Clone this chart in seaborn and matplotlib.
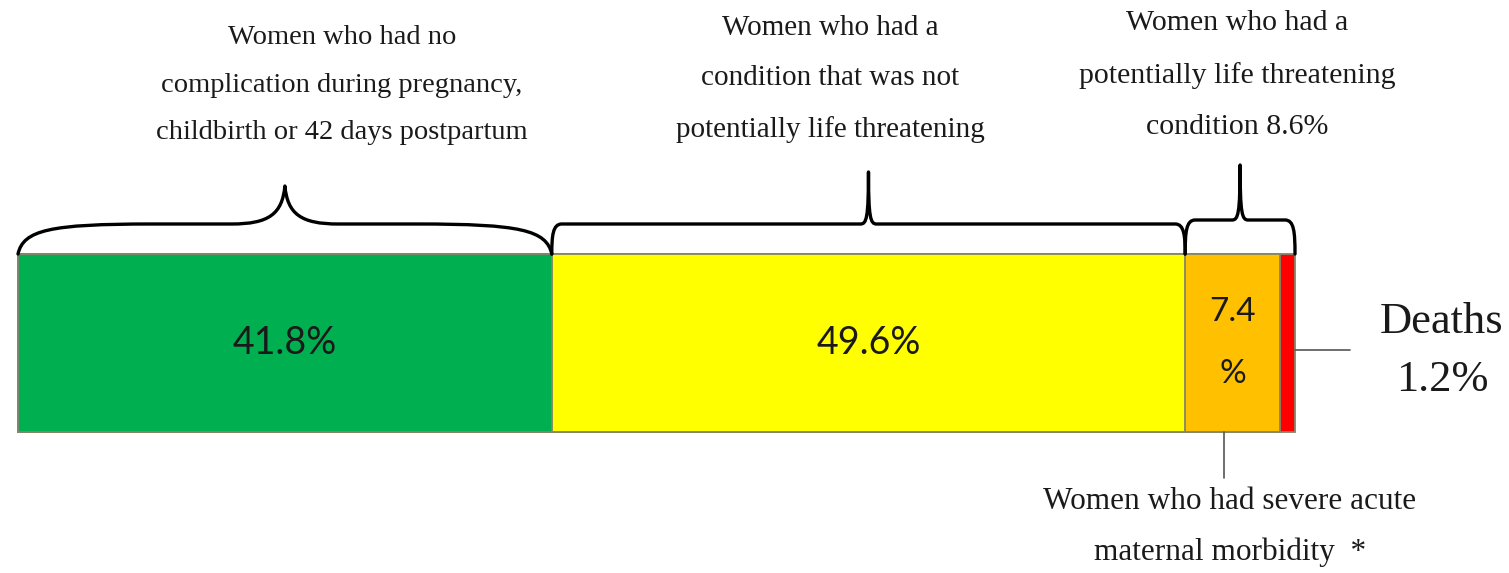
import numpy as np
import pandas as pd
import matplotlib
matplotlib.use("Agg")
import matplotlib.pyplot as plt
from matplotlib.path import Path
from matplotlib.patches import PathPatch
import seaborn as sns

# ---------------- data ----------------
segments = ["No complication", "Not potentially life threatening",
            "Severe acute maternal morbidity", "Deaths"]
values = [41.8, 49.6, 7.4, 1.2]
bar_labels = ["41.8%", "49.6%", "7.4\n%", ""]
colors = ["#00B050", "#FFFF00", "#FFC000", "#FF0000"]
top_labels = [
    "Women who had no\ncomplication during pregnancy,\nchildbirth or 42 days postpartum",
    "Women who had a\ncondition that was not\npotentially life threatening",
    "Women who had a\npotentially life threatening\ncondition 8.6%",
]
samm_label = "Women who had severe acute\nmaternal morbidity  *"
death_label = "Deaths\n1.2%"

df = pd.DataFrame({"segment": segments, "value": values})
df["cum"] = df["value"].cumsum()
df["start"] = df["cum"] - df["value"]
df["row"] = ""

# ---------------- figure ----------------
sns.set_theme(style="white")
plt.rcParams["font.family"] = ["Liberation Serif", "DejaVu Serif"]

W, H = 1509, 573
fig = plt.figure(figsize=(W / 100, H / 100), dpi=100)
ax = fig.add_axes([0, 0, 1, 1])

# pixel helpers (layout only)
PX0, PXS = 18.0, 12.77      # x pixel of 0 %, pixels per %
PYC, PYS = 343.0, 222.5     # y pixel of bar centre, pixels per category unit
def X(px): return (px - PX0) / PXS
def Y(py): return (py - PYC) / PYS
def dx(px): return px / PXS
def dy(py): return py / PYS

# stacked bar: draw cumulative totals from the largest down
for i in reversed(range(len(df))):
    sns.barplot(data=df.iloc[[i]], x="cum", y="row", orient="h",
                color=colors[i], saturation=1, width=0.8,
                edgecolor="#85856a", linewidth=1.3, errorbar=None, ax=ax)

ax.set_xlim(X(0), X(W))
ax.set_ylim(Y(H), Y(0))
ax.axis("off")

# labels inside bars
mids = (df["start"] + df["value"] / 2).to_numpy()
for i, lab in enumerate(bar_labels):
    if not lab:
        continue
    ax.text(mids[i], 0, lab, ha="center", va="center", fontsize=27 if i < 2 else 24,
            family=["Lato", "DejaVu Sans"], color="#1a1a1a", linespacing=2.35)

bar_top = -0.4

def curly_brace(x0, x1, ylevel, ypeak, lw=2.4):
    w = x1 - x0
    xm = (x0 + x1) / 2
    verts = [
        (x0, bar_top),
        (x0 + 0.01 * w, ylevel - dy(-6)), (x0 + 0.06 * w, ylevel), (x0 + 0.25 * w, ylevel),
        (xm - 0.10 * w, ylevel),
        (xm - 0.03 * w, ylevel), (xm - 0.005 * w, ylevel + dy(-10)), (xm, ypeak),
        (xm + 0.005 * w, ylevel + dy(-10)), (xm + 0.03 * w, ylevel), (xm + 0.10 * w, ylevel),
        (x1 - 0.25 * w, ylevel),
        (x1 - 0.06 * w, ylevel), (x1 - 0.01 * w, ylevel - dy(-6)), (x1, bar_top),
    ]
    codes = [Path.MOVETO,
             Path.CURVE4, Path.CURVE4, Path.CURVE4,
             Path.LINETO,
             Path.CURVE4, Path.CURVE4, Path.CURVE4,
             Path.CURVE4, Path.CURVE4, Path.CURVE4,
             Path.LINETO,
             Path.CURVE4, Path.CURVE4, Path.CURVE4]
    ax.add_patch(PathPatch(Path(verts, codes), fill=False, lw=lw,
                           edgecolor="black", capstyle="round", joinstyle="round"))

def square_brace(x0, x1, ylevel, ypeak, lw=2.4):
    xm = (x0 + x1) / 2
    r = dx(10)
    verts = [
        (x0, bar_top),
        (x0, ylevel + dy(12)), (x0 + r * 0.1, ylevel), (x0 + r, ylevel),
        (xm - dx(8), ylevel),
        (xm - dx(2), ylevel), (xm, ylevel - dy(6)), (xm, ypeak),
        (xm, ylevel - dy(6)), (xm + dx(2), ylevel), (xm + dx(8), ylevel),
        (x1 - r, ylevel),
        (x1 - r * 0.1, ylevel), (x1, ylevel + dy(12)), (x1, bar_top),
    ]
    codes = [Path.MOVETO,
             Path.CURVE4, Path.CURVE4, Path.CURVE4,
             Path.LINETO,
             Path.CURVE4, Path.CURVE4, Path.CURVE4,
             Path.CURVE4, Path.CURVE4, Path.CURVE4,
             Path.LINETO,
             Path.CURVE4, Path.CURVE4, Path.CURVE4]
    ax.add_patch(PathPatch(Path(verts, codes), fill=False, lw=lw,
                           edgecolor="black", capstyle="round", joinstyle="round"))

starts = df["start"].to_numpy()
ends = df["cum"].to_numpy()
curly_brace(starts[0], ends[0], Y(224), Y(186))
square_brace(starts[1], ends[1], Y(224), Y(172))
square_brace(starts[2], ends[3], Y(220), Y(165))

# top labels
ax.text(X(342), Y(85), top_labels[0], ha="center", va="center", fontsize=20.5,
        linespacing=2.2, color="#1a1a1a")
ax.text(X(830), Y(79), top_labels[1], ha="center", va="center", fontsize=21,
        linespacing=2.2, color="#1a1a1a")
ax.text(X(1237), Y(75), top_labels[2], ha="center", va="center", fontsize=21.5,
        linespacing=2.25, color="#1a1a1a")

# deaths leader + label
ax.plot([ends[3], X(1350)], [Y(350), Y(350)], color="#555555", lw=1.2)
ax.text(X(1442), Y(351), death_label, ha="center", va="center", fontsize=32,
        linespacing=1.6, color="#1a1a1a")

# SAMM leader + label
ax.plot([mids[2] - dx(8), mids[2] - dx(8)], [0.4, Y(478)], color="#555555", lw=1.2)
ax.text(X(1230), Y(527), samm_label, ha="center", va="center", fontsize=22.5,
        linespacing=1.95, color="#1a1a1a")

fig.savefig("out.png", dpi=100)
